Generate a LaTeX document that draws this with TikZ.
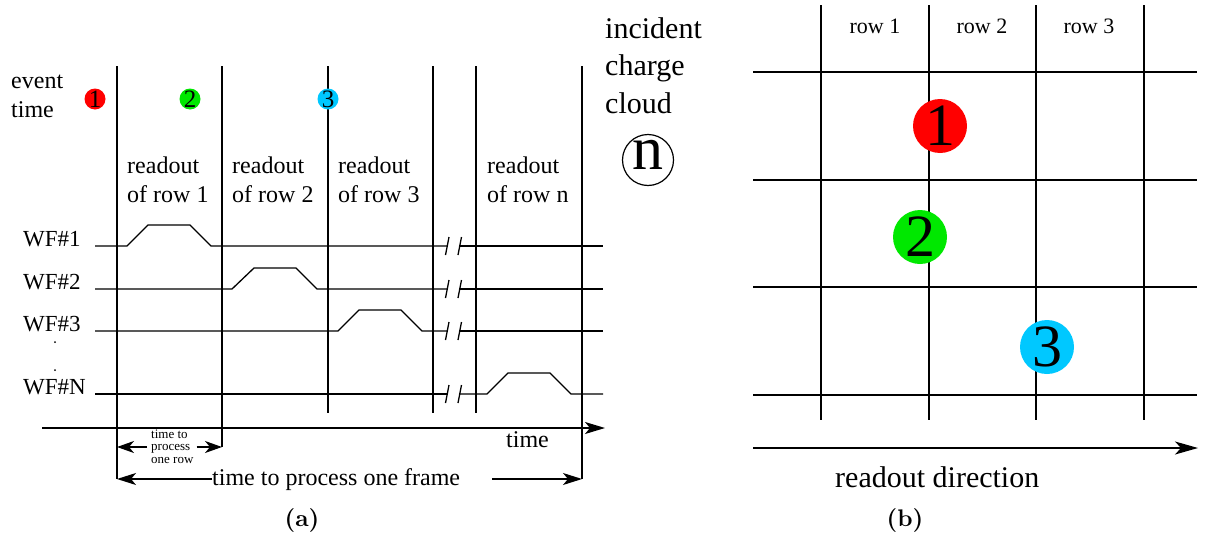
\documentclass[tikz,border=0pt]{standalone}
\usepackage{fontspec}
\newfontfamily\tnr{Liberation Serif}
\newfontfamily\capfont{lmroman10-bold}[Extension=.otf]
\usetikzlibrary{arrows.meta}
\definecolor{evred}{RGB}{255,0,0}
\definecolor{evgreen}{RGB}{0,232,0}
\definecolor{evcyan}{RGB}{0,200,255}

\begin{document}
\begin{tikzpicture}[x=1pt,y=-1pt,
  tline/.style={line width=1.3pt},
  gline/.style={line width=2pt},
  txt/.style={font=\tnr\fontsize{24}{29}\selectfont, inner sep=0pt},
  wftxt/.style={font=\tnr\fontsize{23}{29}\selectfont, inner sep=0pt},
  bigtxt/.style={font=\tnr\fontsize{30}{37.5}\selectfont, inner sep=0pt},
  tinytxt/.style={font=\tnr\fontsize{13}{12.5}\selectfont, inner sep=0pt},
  rowtxt/.style={font=\tnr\fontsize{22}{26}\selectfont, inner sep=0pt},
  caption/.style={font=\capfont\fontsize{24}{30}\selectfont, inner sep=0pt},
  evsmall/.style={circle, inner sep=0pt, minimum size=21pt, font=\tnr\fontsize{25}{25}\selectfont},
  evbig/.style={circle, inner sep=0pt, minimum size=54pt, font=\tnr\fontsize{60}{60}\selectfont},
  bigarrow/.style={-{Stealth[length=20pt,width=12pt,inset=5pt]}},
  dimarrow/.style={-{Stealth[length=19pt,width=12pt,inset=5pt]}},
  smallarrow/.style={-{Stealth[length=17pt,width=12pt,inset=5pt]}}]
\useasboundingbox (0,0) rectangle (1210,533);

% ---------- (a) timing diagram ----------
% frame boundaries
\draw[tline] (117,66) -- (117,479);
\draw[tline] (222,66) -- (222,447);
\draw[tline] (328,66) -- (328,413);
\draw[tline] (433,66) -- (433,413);
\draw[tline] (476,66) -- (476,413);
\draw[tline] (582,66) -- (582,479);

% time axis
\draw[tline, bigarrow] (42,428) -- (605,428);
\node[txt, anchor=base west] (timelbl) at (506,447) {time};

% waveforms with a break between row 3 and row n
\draw[tline] (95,246) -- (127,246) -- (148,225) -- (190,225) -- (211,246) -- (447.5,246);
\draw[tline] (460,246) -- (603,246);
\draw[tline] (95,289) -- (232,289) -- (254,268) -- (296,268) -- (317,289) -- (447.5,289);
\draw[tline] (460,289) -- (603,289);
\draw[tline] (95,331) -- (338,331) -- (359,310) -- (401,310) -- (422,331) -- (447.5,331);
\draw[tline] (460,331) -- (603,331);
\draw[tline] (95,394) -- (447.5,394);
\draw[tline] (460,394) -- (487,394) -- (508,373) -- (550,373) -- (571,394) -- (603,394);
\foreach \yy in {246,289,331,394}{
  \draw[tline] (445.5,\yy+9) -- (449,\yy-9);
  \draw[tline] (458,\yy+9) -- (461.5,\yy-9);
}

% waveform labels
\node[wftxt, anchor=base west] (wf1) at (23,246) {WF\#1};
\node[wftxt, anchor=base west] (wf2) at (23,289) {WF\#2};
\node[wftxt, anchor=base west] (wf3) at (23,331) {WF\#3};
\node[wftxt, anchor=base west] (wfn) at (23,394) {WF\#N};
\fill (55,342) circle (1pt);
\fill (55,370) circle (1pt);

% event times
\node[txt, anchor=base west] (evlbl1) at (11,88) {event};
\node[txt, anchor=base west] (evlbl2) at (11,117) {time};
\node[evsmall, fill=evred] (e1) at (95,99) {1};
\node[evsmall, fill=evgreen] (e2) at (190,99) {2};
\node[evsmall, fill=evcyan] (e3) at (328,99) {3};

% readout windows
\node[txt, anchor=base west] (r1a) at (127,173) {readout};
\node[txt, anchor=base west] (r1b) at (127,202) {of row 1};
\node[txt, anchor=base west] (r2a) at (232,173) {readout};
\node[txt, anchor=base west] (r2b) at (232,202) {of row 2};
\node[txt, anchor=base west] (r3a) at (338,173) {readout};
\node[txt, anchor=base west] (r3b) at (338,202) {of row 3};
\node[txt, anchor=base west] (rna) at (487,173) {readout};
\node[txt, anchor=base west] (rnb) at (487,202) {of row n};

% incident charge cloud
\node[bigtxt, anchor=base west] (inc1) at (605,38) {incident};
\node[bigtxt, anchor=base west] (inc2) at (605,75) {charge};
\node[bigtxt, anchor=base west] (inc3) at (605,113) {cloud};
\draw[line width=1.2pt] (648,160) circle (25.5pt);
\node[font=\tnr\fontsize{62}{62}\selectfont, inner sep=0pt, anchor=base] (ncl) at (648,169) {n};

% processing times
\coordinate (rowL) at (117,447);
\coordinate (rowR) at (222,447);
\node[tinytxt, align=left, anchor=west] (rowlbl) at (151,446.5) {time to\\process\\one row};
\draw[tline, smallarrow] ([xshift=-4pt]rowlbl.west |- rowL) -- (rowL);
\draw[tline, smallarrow] ([xshift=3pt]rowlbl.east |- rowR) -- (rowR);

\coordinate (frameL) at (117,479);
\coordinate (frameR) at (582,479);
\node[txt, anchor=base west] (framelbl) at (212,485) {time to process one frame};
\draw[tline, dimarrow] (framelbl.west |- frameL) -- (frameL);
\draw[tline, dimarrow] ([xshift=32pt]framelbl.east |- frameR) -- (frameR);

\node[caption, anchor=base] (capa) at (302,526) {(a)};

% ---------- (b) pixel rows ----------
\foreach \xx in {821,929,1036,1144}
  \draw[gline] (\xx,5) -- (\xx,420);
\foreach \yy in {72,180,287,395}
  \draw[gline] (753,\yy) -- (1197,\yy);

\node[rowtxt, anchor=base] (row1) at (875,33) {row 1};
\node[rowtxt, anchor=base] (row2) at (982,33) {row 2};
\node[rowtxt, anchor=base] (row3) at (1089,33) {row 3};

\node[evbig, fill=evred] (b1) at (940,126) {1};
\node[evbig, fill=evgreen] (b2) at (920,237) {2};
\node[evbig, fill=evcyan] (b3) at (1047,347) {3};

\coordinate (dirS) at (753,448);
\coordinate (dirE) at (1198,448);
\draw[tline, -{Stealth[length=23pt,width=13pt,inset=6pt]}] (dirS) -- (dirE);
\node[bigtxt, anchor=base west] (dirlbl) at (835,487) {readout direction};

\node[caption, anchor=base] (capb) at (905,526) {(b)};
\end{tikzpicture}
\end{document}
